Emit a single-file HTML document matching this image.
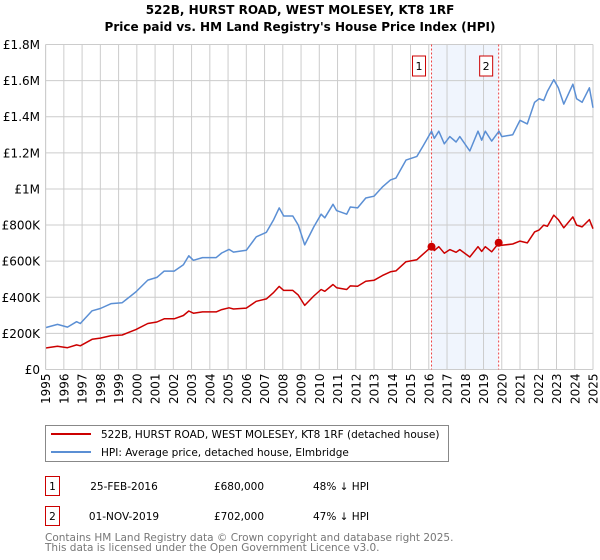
<!DOCTYPE html>
<html><head><meta charset="utf-8">
<style>
body{margin:0;background:#fff;font-family:"Liberation Sans","DejaVu Sans",sans-serif;}
#wrap{position:relative;width:600px;height:560px;overflow:hidden;}
svg text{font-family:"DejaVu Sans","Liberation Sans",sans-serif;}
</style></head>
<body>
<div id="wrap">
<svg id="chart" width="600" height="560"></svg>
</div>
<script>
const hpiYears=[1995.0,1995.65,1996.2,1996.7,1996.9,1997.55,1998.0,1998.6,1999.2,1999.95,2000.6,2001.1,2001.5,2002.05,2002.55,2002.85,2003.1,2003.6,2004.35,2004.65,2005.05,2005.3,2006.0,2006.55,2007.1,2007.5,2007.8,2008.05,2008.55,2008.85,2009.2,2009.7,2010.1,2010.3,2010.75,2010.95,2011.5,2011.7,2012.1,2012.55,2013.0,2013.45,2013.9,2014.2,2014.75,2015.35,2015.7,2016.15,2016.3,2016.55,2016.85,2017.15,2017.5,2017.7,2018.25,2018.7,2018.9,2019.1,2019.45,2019.85,2020.0,2020.6,2021.0,2021.4,2021.8,2022.05,2022.3,2022.5,2022.85,2023.1,2023.4,2023.9,2024.1,2024.4,2024.8,2025.0];
const hpiValues=[232,250,235,265,255,325,338,365,370,430,495,510,545,545,580,630,605,620,620,645,665,650,660,735,760,830,895,850,850,800,690,790,860,840,915,880,860,900,895,950,960,1010,1050,1060,1160,1180,1240,1320,1280,1320,1250,1290,1260,1290,1210,1320,1270,1320,1265,1320,1290,1300,1380,1360,1480,1500,1490,1540,1605,1560,1470,1580,1500,1480,1560,1450];
const priceValues=[119,129,121,136,131,167,174,188,191,221,255,263,281,281,299,324,312,319,319,332,342,335,340,378,391,427,460,438,438,412,355,407,443,433,471,453,443,463,461,489,494,520,541,546,597,608,640,680,659,680,644,664,649,664,623,680,654,680,652,702,688,695,711,701,762,773,800,793,855,830,785,845,800,790,830,780];
const yTicks=[0,200,400,600,800,1000,1200,1400,1600,1800];
const yTickLabels=["£0","£200K","£400K","£600K","£800K","£1M","£1.2M","£1.4M","£1.6M","£1.8M"];
const xTicks=[1995,1996,1997,1998,1999,2000,2001,2002,2003,2004,2005,2006,2007,2008,2009,2010,2011,2012,2013,2014,2015,2016,2017,2018,2019,2020,2021,2022,2023,2024,2025];
const saleYears=[2016.15,2019.83];
const saleValues=[680,702];
const saleLabels=["1","2"];

const NS="http://www.w3.org/2000/svg";
const svg=document.getElementById('chart');
const L=45.6,R=593,T=44.5,B=369.5;
const xs=y=>L+(y-1995)/30*(R-L);
const ys=v=>B-v/1800*(B-T);
function mk(tag,attrs,parent){const e=document.createElementNS(NS,tag);for(const k in attrs)e.setAttribute(k,attrs[k]);(parent||svg).appendChild(e);return e;}

let t=mk('text',{x:300,y:14,'text-anchor':'middle','font-size':'12','font-weight':'bold'});t.textContent="522B, HURST ROAD, WEST MOLESEY, KT8 1RF";


t=mk('text',{x:300,y:31,'text-anchor':'middle','font-size':'12','font-weight':'bold'});t.textContent="Price paid vs. HM Land Registry's House Price Index (HPI)";



let sh=mk('rect',{x:xs(saleYears[0]),y:T,width:xs(saleYears[1])-xs(saleYears[0]),height:B-T,fill:'#f0f5fd'});



yTicks.forEach((v,i)=>{
  const g=mk('line',{x1:L,x2:R,y1:ys(v),y2:ys(v),stroke:'#cccccc','stroke-width':1});
  
  
  const tx=mk('text',{x:40,y:ys(v)+4.5,'text-anchor':'end','font-size':'12'});tx.textContent=yTickLabels[i];
  
  
});
xTicks.forEach(yr=>{
  const g=mk('line',{x1:xs(yr),x2:xs(yr),y1:T,y2:B,stroke:'#cccccc','stroke-width':1});
  
  
  const tx=mk('text',{x:0,y:0,'text-anchor':'end','font-size':'12',transform:`translate(${xs(yr)+4.5},${B+4}) rotate(-90)`});tx.textContent=yr;
  
  
});

saleYears.forEach((yr,i)=>{
  const l=mk('line',{x1:xs(yr),x2:xs(yr),y1:T,y2:B,stroke:'#ee4444','stroke-width':1,'stroke-dasharray':'2,2'});
  
  
  const bx=mk('rect',{x:xs(yr)-19,y:56,width:13,height:20,fill:'#fff',stroke:'#cc0000','stroke-width':1});
  
  
  const tx=mk('text',{x:xs(yr)-12.5,y:70,'text-anchor':'middle','font-size':'11'});tx.textContent=saleLabels[i];
  
  
});

function path(vals,color,name){
  const d=vals.map((v,i)=>(i?'L':'M')+xs(hpiYears[i]).toFixed(1)+','+ys(v).toFixed(1)).join(' ');
  const p=mk('path',{d:d,fill:'none',stroke:color,'stroke-width':1.5,'stroke-linejoin':'round'});
  
  
}
path(hpiValues,'#5b8fd4','hpi-line');
path(priceValues,'#cc0000','price-paid-line');
saleYears.forEach((yr,i)=>{
  const c=mk('circle',{cx:xs(yr),cy:ys(saleValues[i]),r:4,fill:'#cc0000'});
  
  
});

let ax=mk('line',{x1:L,x2:L,y1:T,y2:B,stroke:'#cccccc'});



const lg=mk('g',{});


mk('rect',{x:45.5,y:425.5,width:403,height:36,fill:'#fff',stroke:'#888'},lg);
let e=mk('line',{x1:51,x2:91,y1:434,y2:434,stroke:'#cc0000','stroke-width':2},lg);


e=mk('text',{x:101,y:438,'font-size':'10.5'},lg);e.textContent="522B, HURST ROAD, WEST MOLESEY, KT8 1RF (detached house)";


e=mk('line',{x1:51,x2:91,y1:452,y2:452,stroke:'#5b8fd4','stroke-width':2},lg);


e=mk('text',{x:101,y:456,'font-size':'10.5'},lg);e.textContent="HPI: Average price, detached house, Elmbridge";



const rows=[["1","25-FEB-2016","£680,000","48% ↓ HPI",476],["2","01-NOV-2019","£702,000","47% ↓ HPI",506]];
rows.forEach(r=>{
  const y=r[4];
  let b=mk('rect',{x:45.5,y:y+0.5,width:14,height:19,fill:'#fff',stroke:'#cc0000'});
  
  
  let tx=mk('text',{x:52.5,y:y+14,'text-anchor':'middle','font-size':'10.5'});tx.textContent=r[0];
  
  
  tx=mk('text',{x:124,y:y+14,'text-anchor':'middle','font-size':'10.5'});tx.textContent=r[1];
  
  
  tx=mk('text',{x:239,y:y+14,'text-anchor':'middle','font-size':'10.5'});tx.textContent=r[2];
  
  
  tx=mk('text',{x:313,y:y+14,'font-size':'10.5'});tx.textContent=r[3];
  
  
});
e=mk('text',{x:45,y:541,'font-size':'10.5',fill:'#777'});e.textContent="Contains HM Land Registry data © Crown copyright and database right 2025.";


e=mk('text',{x:45,y:551,'font-size':'10.5',fill:'#777'});e.textContent="This data is licensed under the Open Government Licence v3.0.";


</script>
</body></html>
